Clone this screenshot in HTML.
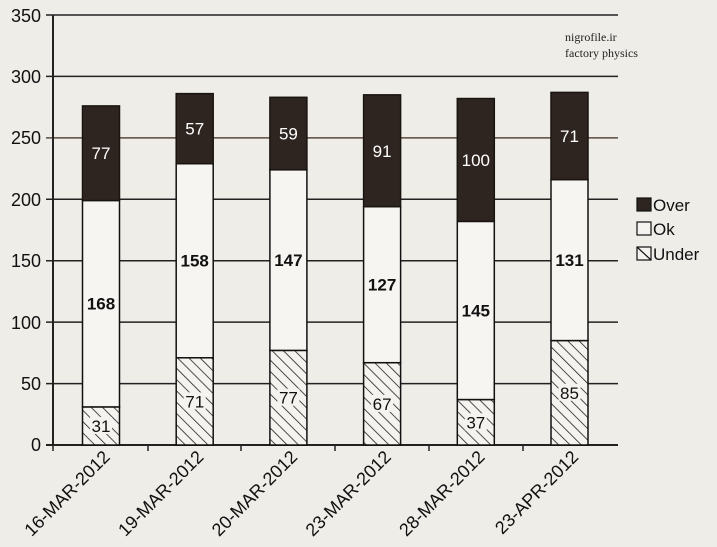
<!DOCTYPE html>
<html><head><meta charset="utf-8"><style>
html,body{margin:0;padding:0;background:#efede8;}
svg{display:block;font-family:"Liberation Sans",Arial,sans-serif;}
</style></head><body>
<svg width="717" height="547" viewBox="0 0 717 547" xmlns="http://www.w3.org/2000/svg">
<defs>
<pattern id="h" patternUnits="userSpaceOnUse" width="8" height="8" patternTransform="rotate(-45)">
<rect width="8" height="8" fill="#f5f3ef"/>
<line x1="0" y1="0" x2="0" y2="8" stroke="#222" stroke-width="1.6"/>
</pattern>
</defs>
<rect width="717" height="547" fill="#efede8"/>
<g stroke="#222" stroke-width="1.5">
<line x1="46" y1="15" x2="618" y2="15"/>
<line x1="46" y1="76.4" x2="618" y2="76.4"/>
<line x1="46" y1="137.9" x2="618" y2="137.9" stroke="#5a4a40"/>
<line x1="46" y1="199.3" x2="618" y2="199.3"/>
<line x1="46" y1="260.7" x2="618" y2="260.7"/>
<line x1="46" y1="322.1" x2="618" y2="322.1"/>
<line x1="46" y1="383.6" x2="618" y2="383.6"/>
<line x1="53" y1="15" x2="53" y2="445" stroke-width="2"/>
<line x1="46" y1="445" x2="618" y2="445" stroke-width="2"/>
<line x1="53" y1="445" x2="53" y2="451"/>
<line x1="148" y1="445" x2="148" y2="451"/>
<line x1="241" y1="445" x2="241" y2="451"/>
<line x1="335" y1="445" x2="335" y2="451"/>
<line x1="429" y1="445" x2="429" y2="451"/>
<line x1="523" y1="445" x2="523" y2="451"/>
</g>
<g font-size="18" text-anchor="end" fill="#111">
<text x="41" y="22">350</text><text x="41" y="83">300</text><text x="41" y="144">250</text>
<text x="41" y="206">200</text><text x="41" y="267">150</text><text x="41" y="329">100</text>
<text x="41" y="390">50</text><text x="41" y="451">0</text>
</g>
<g font-family="Liberation Serif,serif" font-size="12" fill="#222">
<text x="565" y="41">nigrofile.ir</text><text x="565" y="57">factory physics</text>
</g>
<g font-size="16" fill="#111" stroke="#111" stroke-width="1.2">
<rect x="637" y="198" width="14" height="13" fill="#2f2520"/>
<rect x="637" y="222" width="14" height="13" fill="#f5f3ef"/>
<rect x="637" y="247" width="14" height="13" fill="#f5f3ef"/>
<line x1="637" y1="247" x2="651" y2="260"/>
</g>
<g font-size="17" fill="#111">
<text x="653" y="211">Over</text><text x="653" y="235">Ok</text><text x="653" y="260">Under</text>
</g>
<script>
var d=[[31,168,77],[71,158,57],[77,147,59],[67,127,91],[37,145,100],[85,131,71]];
var L=["16-MAR-2012","19-MAR-2012","20-MAR-2012","23-MAR-2012","28-MAR-2012","23-APR-2012"];
var ns="http://www.w3.org/2000/svg",svg=document.querySelector("svg");
function Y(v){return 445-1.2286*v;}
function el(t,a){var e=document.createElementNS(ns,t);for(var k in a)e.setAttribute(k,a[k]);svg.appendChild(e);return e;}
d.forEach(function(b,i){
 var cx=101+i*93.7,x=cx-18.5,w=37;
 var u=b[0],o=b[1],v=b[2];
 el("rect",{x:x,y:Y(u),width:w,height:445-Y(u),fill:"url(#h)",stroke:"#111","stroke-width":1.5});
 el("rect",{x:x,y:Y(u+o),width:w,height:Y(u)-Y(u+o),fill:"#f7f5f1",stroke:"#111","stroke-width":1.5});
 el("rect",{x:x,y:Y(u+o+v),width:w,height:Y(u+o)-Y(u+o+v),fill:"#2f2520",stroke:"#1a1410","stroke-width":1.5});
 var yu=(Y(u)+445)/2;
 el("rect",{x:cx-11,y:yu-9,width:22,height:17,fill:"#f5f3ef"});
 el("text",{x:cx,y:yu+6,"text-anchor":"middle","font-size":17,fill:"#111"}).textContent=u;
 el("text",{x:cx,y:(Y(u)+Y(u+o))/2+6,"text-anchor":"middle","font-size":17,"font-weight":"bold",fill:"#111"}).textContent=o;
 el("text",{x:cx,y:(Y(u+o)+Y(u+o+v))/2+6,"text-anchor":"middle","font-size":17,fill:"#fff"}).textContent=v;
 el("text",{x:0,y:0,"text-anchor":"end","font-size":18,fill:"#111",transform:"translate("+(cx+10)+",458) rotate(-45)"}).textContent=L[i];
});
</script>
</svg>
</body></html>
